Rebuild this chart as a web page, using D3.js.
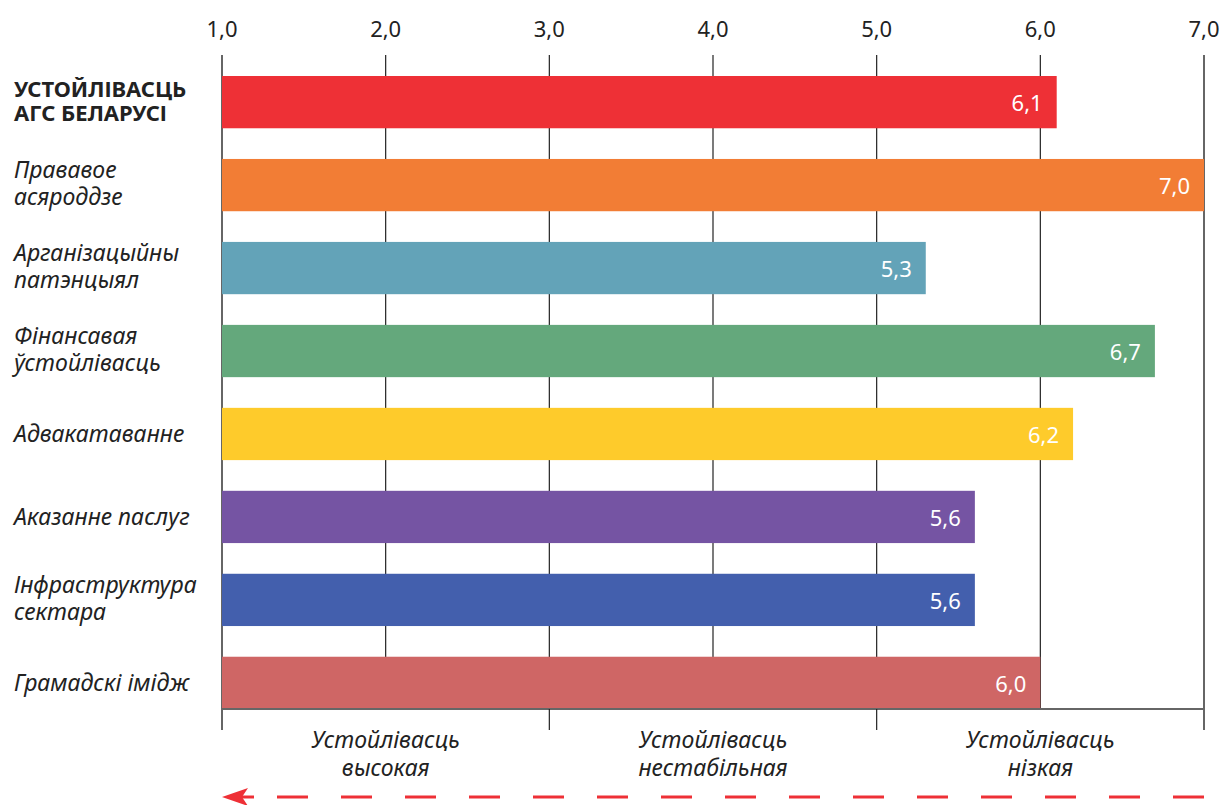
<!DOCTYPE html>
<html>
<head>
<meta charset="utf-8">
<title>Устойлівасць АГС Беларусі</title>
<script src="https://d3js.org/d3.v7.min.js"></script>
<style>
  body { margin: 0; background: #fff; }
  text { font-family: "Noto Sans", "Open Sans", sans-serif; }
</style>
</head>
<body>
<div id="chart"></div>
<script>
// дадзеныя
var categories = [
  ["УСТОЙЛІВАСЦЬ", "АГС БЕЛАРУСІ"],
  ["Прававое", "асяроддзе"],
  ["Арганізацыйны", "патэнцыял"],
  ["Фінансавая", "ўстойлівасць"],
  ["Адвакатаванне"],
  ["Аказанне паслуг"],
  ["Інфраструктура", "сектара"],
  ["Грамадскі імідж"]
];
var values = [6.1, 7.0, 5.3, 6.7, 6.2, 5.6, 5.6, 6.0];
var colors = ["#EE3036", "#F27D35", "#63A3B8", "#64A87C", "#FECB2B", "#7554A3", "#435FAD", "#CF6665"];
var ticks = [1, 2, 3, 4, 5, 6, 7];
var zoneTicks = [1, 3, 5, 7];
var zones = [
  {from: 1, to: 3, lines: ["Устойлівасць", "высокая"]},
  {from: 3, to: 5, lines: ["Устойлівасць", "нестабільная"]},
  {from: 5, to: 7, lines: ["Устойлівасць", "нізкая"]}
];
var fmt = function(d) { return d.toFixed(1).replace(".", ","); };

var W = 1222, H = 805;
var svg = d3.select("#chart").append("svg")
    .attr("width", W)
    .attr("height", H);

var x = d3.scaleLinear().domain([1, 7]).range([222, 1204]);
var y = d3.scaleBand().domain(d3.range(values.length)).range([76, 709]).paddingInner(0.37).paddingOuter(0);
var top0 = 55, bottom0 = 709;

// сетка
svg.selectAll("line.grid")
    .data(ticks)
    .enter()
    .append("line")
    .attr("class", "grid")
    .attr("x1", d => x(d)).attr("x2", d => x(d))
    .attr("y1", top0).attr("y2", bottom0)
    .attr("stroke", d => (d === 1 || d === 7) ? "#666" : "#222")
    .attr("stroke-width", d => (d === 1 || d === 7) ? 2 : 1.2);

// подпісы восі зверху
svg.selectAll("text.tick")
    .data(ticks)
    .enter()
    .append("text")
    .attr("class", "tick")
    .attr("x", d => x(d))
    .attr("y", 37)
    .attr("text-anchor", "middle")
    .attr("font-size", "22px")
    .attr("fill", "#222")
    .text(fmt);

// слупкі
svg.selectAll("rect.bar")
    .data(values)
    .enter()
    .append("rect")
    .attr("class", "bar")
    .attr("x", x(1))
    .attr("y", (d, i) => y(i))
    .attr("width", d => x(d) - x(1))
    .attr("height", y.bandwidth())
    .attr("fill", (d, i) => colors[i]);

// значэнні
svg.selectAll("text.val")
    .data(values)
    .enter()
    .append("text")
    .attr("class", "val")
    .attr("x", d => x(d) - 14)
    .attr("y", (d, i) => y(i) + y.bandwidth() / 2 + 9)
    .attr("text-anchor", "end")
    .attr("font-size", "22px")
    .attr("fill", "#fff")
    .text(fmt);

// катэгорыі
var lineGap = function(i) { return i === 0 ? 24 : 27; };
var cat = svg.selectAll("text.cat")
    .data(categories)
    .enter()
    .append("text")
    .attr("class", "cat")
    .attr("x", 14)
    .attr("y", (d, i) => y(i) + y.bandwidth() / 2 + 8 - (d.length - 1) * (lineGap(i) / 2 + 1.5))
    .attr("font-size", (d, i) => i === 0 ? "22px" : "23px")
    .attr("font-style", (d, i) => i === 0 ? "normal" : "italic")
    .attr("font-weight", (d, i) => i === 0 ? "bold" : "normal")
    .attr("fill", "#222");
cat.each(function(d, i) {
  d3.select(this).selectAll("tspan")
      .data(d)
      .enter()
      .append("tspan")
      .attr("x", 14)
      .attr("dy", (t, j) => j === 0 ? 0 : lineGap(i))
      .text(t => t);
});

// ніжняя лінія і зоны
svg.append("line")
    .attr("x1", x(1)).attr("x2", x(7))
    .attr("y1", bottom0).attr("y2", bottom0)
    .attr("stroke", "#666").attr("stroke-width", 2);

svg.selectAll("line.ztick")
    .data(zoneTicks)
    .enter()
    .append("line")
    .attr("class", "ztick")
    .attr("x1", d => x(d)).attr("x2", d => x(d))
    .attr("y1", bottom0).attr("y2", 730)
    .attr("stroke", d => (d === 1 || d === 7) ? "#666" : "#222")
    .attr("stroke-width", d => (d === 1 || d === 7) ? 2 : 1.2);

var zt = svg.selectAll("text.zone")
    .data(zones)
    .enter()
    .append("text")
    .attr("class", "zone")
    .attr("x", d => x((d.from + d.to) / 2))
    .attr("y", 748)
    .attr("text-anchor", "middle")
    .attr("font-size", "23px")
    .attr("font-style", "italic")
    .attr("fill", "#222");
zt.selectAll("tspan")
    .data(d => d.lines.map(l => ({l: l, cx: x((d.from + d.to) / 2)})))
    .enter()
    .append("tspan")
    .attr("x", d => d.cx)
    .attr("dy", (d, i) => i === 0 ? 0 : 28)
    .text(d => d.l);

// стрэлка
svg.append("line")
    .attr("x1", x(7)).attr("x2", x(1) + 22)
    .attr("y1", 797).attr("y2", 797)
    .attr("stroke", "#EE3036")
    .attr("stroke-width", 3)
    .attr("stroke-dasharray", "31,33");
svg.append("path")
    .attr("d", "M" + x(1) + ",797 L" + (x(1) + 26) + ",788 L" + (x(1) + 20) + ",797 L" + (x(1) + 26) + ",806 Z")
    .attr("fill", "#EE3036");
svg.append("line")
    .attr("x1", x(1) + 18).attr("x2", x(1) + 32)
    .attr("y1", 797).attr("y2", 797)
    .attr("stroke", "#EE3036").attr("stroke-width", 3);
</script>
</body>
</html>
